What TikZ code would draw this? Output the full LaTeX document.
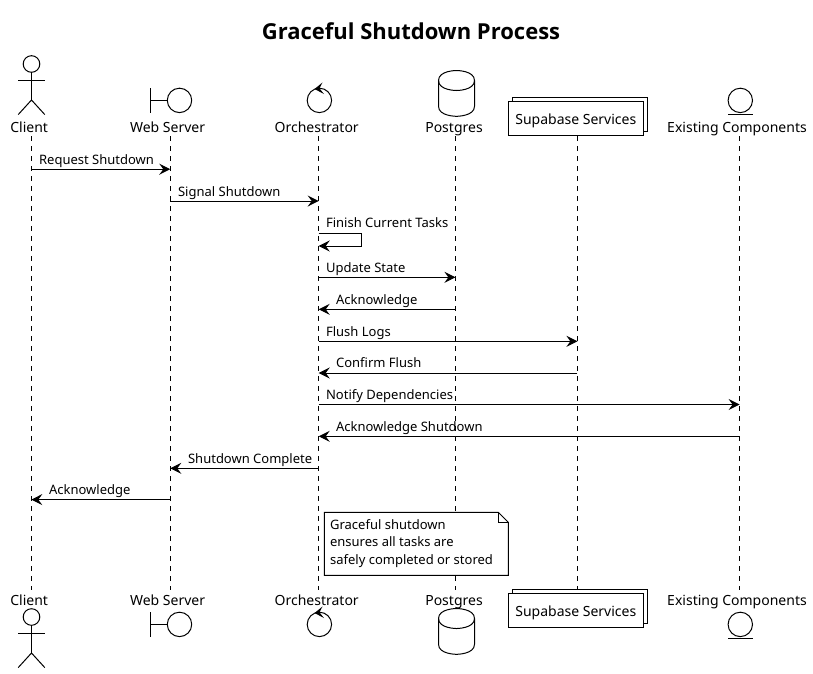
\documentclass[tikz,border=0pt]{standalone}
\usepackage{fontspec}
\setmainfont{Noto Sans}
\newfontfamily\titlefont{Open Sans}
\usetikzlibrary{arrows.meta}
\tikzset{every path/.style={black,line width=1pt},
  lifeline/.style={dash pattern=on 5pt off 5pt},
  msg/.style={-{Stealth[length=11pt,width=11pt,inset=4pt]}},
  msgtext/.style={anchor=base west,inner sep=0pt,font=\fontsize{13}{16}\selectfont},
  headtext/.style={anchor=base,inner sep=0pt,font=\fontsize{14}{17}\selectfont},
  notetext/.style={anchor=north west,inner sep=0pt,align=left,font=\fontsize{13}{17.3}\selectfont}}

\begin{document}
\begin{tikzpicture}[x=1pt,y=-1pt]
   \useasboundingbox (0,0) rectangle (813,673);
   \node[anchor=base,inner sep=0pt,font=\titlefont\fontsize{22}{26}\selectfont\bfseries] (title) at (411,39) {Graceful Shutdown Process};
   % lifelines
   \coordinate (clientT) at (31.3,136);    \coordinate (clientB) at (31.3,590);
   \coordinate (webT) at (170.3,136);      \coordinate (webB) at (170.3,590);
   \coordinate (orchT) at (318.7,136);     \coordinate (orchB) at (318.7,590);
   \coordinate (pgT) at (455.4,136);       \coordinate (pgB) at (455.4,590);
   \coordinate (supaT) at (577.4,136);     \coordinate (supaB) at (577.4,590);
   \coordinate (compT) at (739.6,136);     \coordinate (compB) at (739.6,590);
   \draw[lifeline] (clientT) -- (clientB);
   \draw[lifeline] (webT) -- (webB);
   \draw[lifeline] (orchT) -- (orchB);
   \draw[lifeline] (pgT) -- (pgB);
   \draw[lifeline] (supaT) -- (supaB);
   \draw[lifeline] (compT) -- (compB);
   % top heads
   \node[headtext] (clientH) at (29.2,132) {Client};
   \node[headtext] (webH) at (167.6,132) {Web Server};
   \node[headtext] (orchH) at (316.7,132) {Orchestrator};
   \node[headtext] (pgH) at (454,132) {Postgres};
   \node[headtext] (compH) at (737,132) {Existing Components};
   \begin{scope}
    \draw (31.5,64) circle (8.3);
    \draw (31.5,72.3) -- (31.5,100) (18.2,80.3) -- (44.8,80.3);
    \draw (18.2,114.6) -- (31.5,100) -- (44.8,114.6);
   \end{scope}
   \begin{scope}
    \draw (150.8,88) -- (150.8,112.7) (150.8,100.4) -- (167.3,100.4);
    \draw (179.5,100.4) circle (12.2);
   \end{scope}
   \begin{scope}
    \draw (319.4,100.4) circle (12.2);
    \fill (314.5,89) -- (322.5,82.5) -- (319.5,88.4) -- (324,94) -- cycle;
   \end{scope}
   \begin{scope}
    \draw (438.5,80.5) .. controls (438.5,70.5) and (456.5,70.5) .. (456.5,70.5)
     .. controls (456.5,70.5) and (474.5,70.5) .. (474.5,80.5) -- (474.5,106.3)
     .. controls (474.5,116.3) and (456.5,116.3) .. (456.5,116.3)
     .. controls (456.5,116.3) and (438.5,116.3) .. (438.5,106.3) -- cycle;
    \draw (438.5,80.5) .. controls (438.5,90.5) and (456.5,90.5) .. (456.5,90.5)
     .. controls (456.5,90.5) and (474.5,90.5) .. (474.5,80.5);
   \end{scope}
   \begin{scope}
    \draw (512.4,97.4) rectangle (647.4,131.4);
    \draw[fill=white] (508.4,101.4) rectangle (643.4,135.4);
    \node[headtext] (supaH) at (575.8,124) {Supabase Services};
   \end{scope}
   \begin{scope}
    \draw (740.3,100.4) circle (12.2);
    \draw (728,114.4) -- (752.6,114.4);
   \end{scope}
   % messages
   \draw[msg] (clientT |- 0,169.2) -- (webT |- 0,169.2);
   \node[msgtext] (m1) at (38.6,164) {Request Shutdown};
   \draw[msg] (webT |- 0,201) -- (orchT |- 0,201);
   \node[msgtext] (m2) at (177.6,196) {Signal Shutdown};
   \draw[msg] (orchT |- 0,233.5) -- (361.7,233.5) -- (361.7,246) -- (orchT |- 0,246);
   \node[msgtext] (m3) at (325.6,227) {Finish Current Tasks};
   \draw[msg] (orchT |- 0,277.3) -- (pgT |- 0,277.3);
   \node[msgtext] (m4) at (325.6,272) {Update State};
   \draw[msg] (pgT |- 0,309.3) -- (orchT |- 0,309.3);
   \node[msgtext] (m5) at (335.6,304) {Acknowledge};
   \draw[msg] (orchT |- 0,341.3) -- (supaT |- 0,341.3);
   \node[msgtext] (m6) at (325.6,336) {Flush Logs};
   \draw[msg] (supaT |- 0,373) -- (orchT |- 0,373);
   \node[msgtext] (m7) at (335.6,367.5) {Confirm Flush};
   \draw[msg] (orchT |- 0,404.5) -- (compT |- 0,404.5);
   \node[msgtext] (m8) at (325.6,399) {Notify Dependencies};
   \draw[msg] (compT |- 0,436.3) -- (orchT |- 0,436.3);
   \node[msgtext] (m9) at (335.6,431) {Acknowledge Shutdown};
   \draw[msg] (orchT |- 0,468.3) -- (webT |- 0,468.3);
   \node[msgtext] (m10) at (187.6,463) {Shutdown Complete};
   \draw[msg] (webT |- 0,499.6) -- (clientT |- 0,499.6);
   \node[msgtext] (m11) at (48.6,494) {Acknowledge};
   % note
   \draw[fill=white] (324.4,512.4) -- (498.4,512.4) -- (508.4,522.4) -- (508.4,575.4) -- (324.4,575.4) -- cycle;
   \draw (498.4,512.4) -- (498.4,522.4) -- (508.4,522.4);
   \node[notetext] (note) at (329.6,519) {Graceful shutdown\\ensures all tasks are\\safely completed or stored};
   % bottom heads
   \node[headtext] (clientF) at (29.2,605) {Client};
   \node[headtext] (webF) at (167.6,605) {Web Server};
   \node[headtext] (orchF) at (316.7,605) {Orchestrator};
   \node[headtext] (pgF) at (454,605) {Postgres};
   \node[headtext] (compF) at (737,605) {Existing Components};
   \begin{scope}[yshift=-553pt]
    \draw (31.5,64) circle (8.3);
    \draw (31.5,72.3) -- (31.5,100) (18.2,80.3) -- (44.8,80.3);
    \draw (18.2,114.6) -- (31.5,100) -- (44.8,114.6);
   \end{scope}
   \begin{scope}[yshift=-524pt]
    \draw (150.8,88) -- (150.8,112.7) (150.8,100.4) -- (167.3,100.4);
    \draw (179.5,100.4) circle (12.2);
   \end{scope}
   \begin{scope}[yshift=-524pt]
    \draw (319.4,100.4) circle (12.2);
    \fill (314.5,89) -- (322.5,82.5) -- (319.5,88.4) -- (324,94) -- cycle;
   \end{scope}
   \begin{scope}[yshift=-538pt]
    \draw (438.5,80.5) .. controls (438.5,70.5) and (456.5,70.5) .. (456.5,70.5)
     .. controls (456.5,70.5) and (474.5,70.5) .. (474.5,80.5) -- (474.5,106.3)
     .. controls (474.5,116.3) and (456.5,116.3) .. (456.5,116.3)
     .. controls (456.5,116.3) and (438.5,116.3) .. (438.5,106.3) -- cycle;
    \draw (438.5,80.5) .. controls (438.5,90.5) and (456.5,90.5) .. (456.5,90.5)
     .. controls (456.5,90.5) and (474.5,90.5) .. (474.5,80.5);
   \end{scope}
   \begin{scope}[yshift=-492pt]
    \draw (512.4,97.4) rectangle (647.4,131.4);
    \draw[fill=white] (508.4,101.4) rectangle (643.4,135.4);
    \node[headtext] (supaF) at (575.8,124) {Supabase Services};
   \end{scope}
   \begin{scope}[yshift=-524pt]
    \draw (740.3,100.4) circle (12.2);
    \draw (728,114.4) -- (752.6,114.4);
   \end{scope}
\end{tikzpicture}
\end{document}
